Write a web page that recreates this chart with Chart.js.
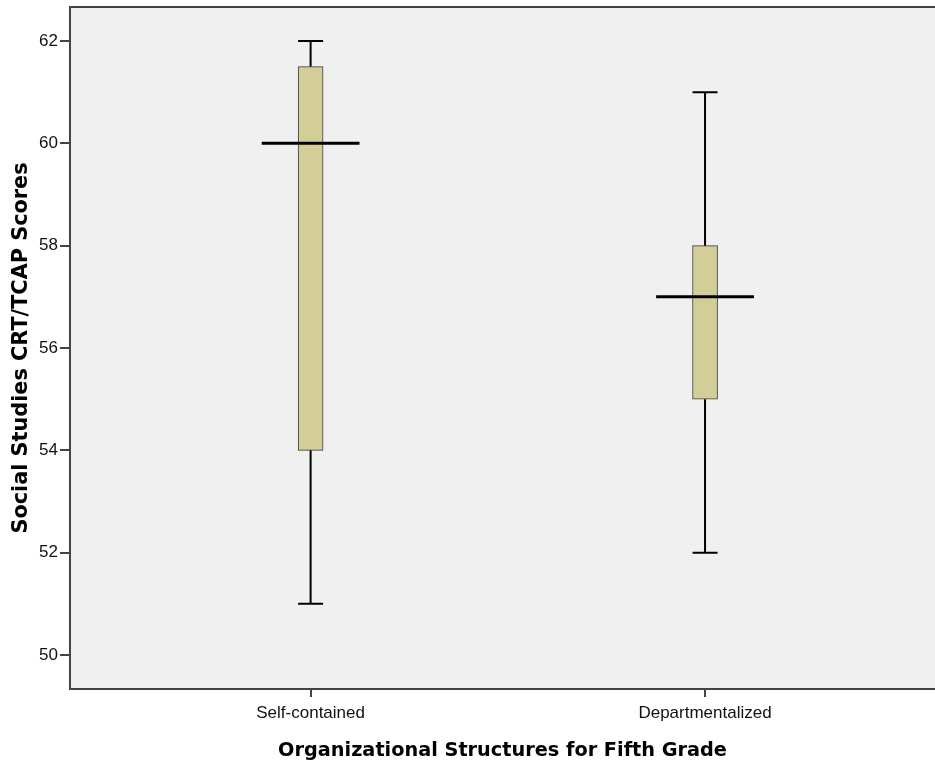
<!DOCTYPE html>
<html>
<head>
<meta charset="utf-8">
<script src="https://cdn.jsdelivr.net/npm/chart.js@4/dist/chart.umd.min.js"></script>
<style>
  html, body { margin: 0; padding: 0; background: #ffffff; }
  canvas { display: block; }
</style>
</head>
<body>
<canvas id="c" width="935" height="763"></canvas>
<script>
// ---- Data ----
const categories   = ['Self-contained', 'Departmentalized'];
const minValues    = [51, 52];
const q1Values     = [54, 55];
const medianValues = [60, 57];
const q3Values     = [61.5, 58];
const maxValues    = [62, 61];
const yTickValues  = [50, 52, 54, 56, 58, 60, 62];
const yTitle = 'Social Studies CRT/TCAP Scores';
const xTitle = 'Organizational Structures for Fifth Grade';

// ---- Style constants (not data) ----
const capHalf = 0.0317;     // half width of whisker caps, in x-units
const medianHalf = 0.124;   // half width of median bar, in x-units
const boxFill = '#d3ce98';
const ink = '#111111';
const axisColor = '#444444';

const pos = categories.map((_, i) => i + 1);

const boxData = pos.map((x, i) => ({ x: x, y: [q1Values[i], q3Values[i]] }));

const whiskerData = [];
const capData = [];
const medianData = [];
pos.forEach((x, i) => {
  whiskerData.push({ x: x, y: minValues[i] }, { x: x, y: q1Values[i] }, { x: x, y: null });
  whiskerData.push({ x: x, y: q3Values[i] }, { x: x, y: maxValues[i] }, { x: x, y: null });
  capData.push({ x: x - capHalf, y: minValues[i] }, { x: x + capHalf, y: minValues[i] }, { x: x, y: null });
  capData.push({ x: x - capHalf, y: maxValues[i] }, { x: x + capHalf, y: maxValues[i] }, { x: x, y: null });
  medianData.push({ x: x - medianHalf, y: medianValues[i] }, { x: x + medianHalf, y: medianValues[i] }, { x: x, y: null });
});

const plotBg = {
  id: 'plotBg',
  beforeDraw(chart) {
    const { ctx, chartArea: a } = chart;
    ctx.save();
    ctx.fillStyle = '#f0f0f0';
    ctx.fillRect(a.left, a.top, a.right - a.left, a.bottom - a.top);
    ctx.restore();
  },
  afterDraw(chart) {
    const { ctx, chartArea: a } = chart;
    ctx.save();
    ctx.strokeStyle = axisColor;
    ctx.lineWidth = 2;
    ctx.beginPath();
    ctx.moveTo(a.left, a.top);
    ctx.lineTo(a.right, a.top);
    ctx.stroke();
    ctx.restore();
  }
};

const lineCommon = {
  type: 'line',
  pointRadius: 0,
  pointHoverRadius: 0,
  fill: false,
  spanGaps: false,
  tension: 0,
  borderColor: '#000000',
  order: 1
};

new Chart(document.getElementById('c'), {
  data: {
    datasets: [
      {
        type: 'bar',
        data: boxData,
        backgroundColor: boxFill,
        borderColor: '#3a3a3a',
        borderWidth: 1,
        borderSkipped: false,
        barThickness: 25,
        grouped: false,
        order: 3
      },
      Object.assign({}, lineCommon, { data: whiskerData, borderWidth: 2, order: 2 }),
      Object.assign({}, lineCommon, { data: capData, borderWidth: 2, order: 2 }),
      Object.assign({}, lineCommon, { data: medianData, borderWidth: 3, order: 1 })
    ]
  },
  options: {
    responsive: false,
    devicePixelRatio: 1,
    animation: false,
    events: [],
    layout: { padding: { top: 7, right: 0, left: 0, bottom: 0 } },
    plugins: { legend: { display: false }, tooltip: { enabled: false } },
    scales: {
      x: {
        type: 'linear',
        min: 0.39,
        max: 2.583,
        offset: false,
        afterBuildTicks(scale) { scale.ticks = pos.map(v => ({ value: v })); },
        afterFit(scale) {
          scale.height = 74;
          scale.paddingLeft = 0; scale.paddingRight = 0;
        },
        ticks: {
          autoSkip: false,
          maxRotation: 0,
          padding: 6,
          color: ink,
          font: { family: 'Liberation Sans', size: 17 },
          callback: (v) => categories[Math.round(v) - 1] || ''
        },
        grid: { offset: false, drawOnChartArea: false, drawTicks: true, tickLength: 8, color: axisColor, lineWidth: 2 },
        border: { display: true, color: axisColor, width: 2 },
        title: {
          display: true,
          text: xTitle,
          color: '#000000',
          font: { family: 'DejaVu Sans', size: 19.3, weight: 'bold' },
          padding: { top: 0, bottom: 0 }
        }
      },
      y: {
        type: 'linear',
        min: 49.336,
        max: 62.664,
        afterBuildTicks(scale) { scale.ticks = yTickValues.map(v => ({ value: v })); },
        afterFit(scale) {
          scale.width = 70;
          scale.paddingTop = 0; scale.paddingBottom = 0;
        },
        ticks: {
          padding: 2,
          color: ink,
          font: { family: 'Liberation Sans', size: 17 },
          callback: (v) => String(v)
        },
        grid: { drawOnChartArea: false, drawTicks: true, tickLength: 10, color: axisColor, lineWidth: 2 },
        border: { display: true, color: axisColor, width: 2 },
        title: {
          display: true,
          text: yTitle,
          color: '#000000',
          font: { family: 'DejaVu Sans', size: 20.8, weight: 'bold' },
          padding: { top: 9, bottom: 0 }
        }
      }
    }
  },
  plugins: [plotBg]
});
</script>
</body>
</html>
